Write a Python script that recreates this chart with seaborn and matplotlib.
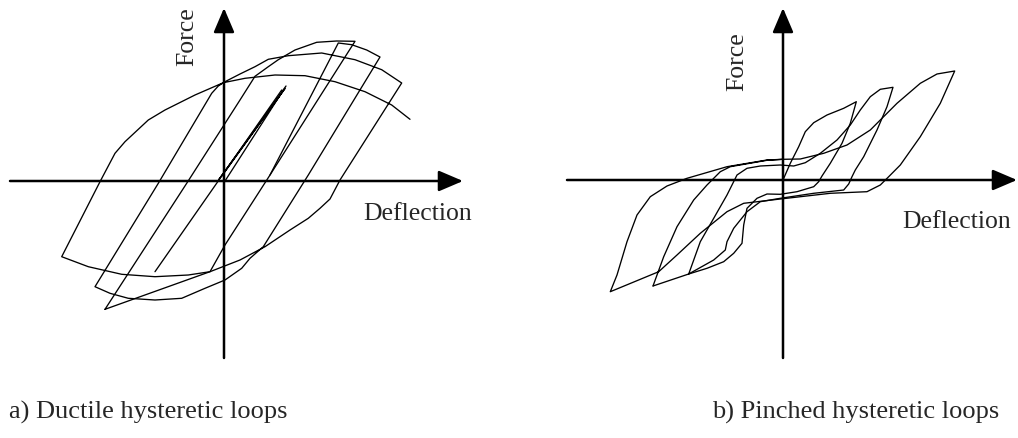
import matplotlib
matplotlib.use("Agg")
import matplotlib.pyplot as plt
import seaborn as sns
import pandas as pd

# ---------------------------------------------------------------
# Ductile hysteretic loops (deflection, force) -- arbitrary units
# ---------------------------------------------------------------
ductile_elastic_defl = [1, 62, -5.5, 61, -2.5]
ductile_elastic_force = [0, 95, 1, 92.5, 4.5]

ductile_unload_defl = [-69, 57.7]
ductile_unload_force = [-90.7, 91]

ductile_cycle1_defl = [-119, -37.3, 16, 31, 44.3, 54.3, 71, 92.7, 112.7, 131,
                       46, 1, -14, -119]
ductile_cycle1_force = [-128.3, -2.3, 81, 104.7, 114.3, 121.3, 131, 138.7, 140,
                        139.7, 6, -64, -90.7, -128.3]

ductile_cycle2_defl = [46, 114.3, 127.7, 142.7, 156, 84.3, 39.3, 26, 17.7, 1,
                       -19, -42.3, -69, -95.7, -114, -129, -65.7, -12.3, -5.7, 1,
                       16, 31, 44.3, 64.3, 97.7, 131, 157.7, 177.7, 116, 106,
                       96, 84.3, 66, 41, 16, -14, -35.7, -69, -102.3, -135.7,
                       -162.3, -124, -109, -99, -75.7, -59, -29, -0.7, 21, 51,
                       81, 111, 141, 167.7, 186]
ductile_cycle2_force = [6, 138, 136.3, 131, 124, 6, -65.7, -77.3, -87.3, -99,
                        -107.3, -117.3, -119, -117.3, -112.3, -105.7, -2.3, 87.7, 95, 99.3,
                        107, 114.3, 121.7, 125.3, 128, 121.3, 111.3, 98, 1, -18,
                        -27.3, -37.3, -49, -65.7, -79, -90.7, -94, -95.7, -93.3, -85.7,
                        -75.7, -0.7, 27.7, 39.3, 61, 71, 86, 98.3, 102.7, 106,
                        105.3, 99.3, 89.3, 76, 61.7]

# ---------------------------------------------------------------
# Pinched hysteretic loops (deflection, force)
# ---------------------------------------------------------------
pinched_cycle1_defl = [0, 7.3, 15.7, 22.3, 30.7, 44, 60.7, 73.3, 67.3, 59,
                       47.3, 39, 35.7, 30.7, 14, -2.7, -16, -26, -36, -39.3,
                       -41, -49.3, -59.3, -76, -94.3]
pinched_cycle1_force = [0, 16.7, 33.3, 48.3, 57.3, 65, 71.7, 78.3, 56.7, 36.7,
                        16.7, 4, -1.7, -6.7, -11.7, -14.3, -14, -18.3, -28.3, -45,
                        -63.3, -73.3, -81.7, -88.3, -94]

pinched_cycle2_defl = [-94.3, -82.7, -69.3, -56, -46, -36, -22.7, -2.7, 10.7, 22.3,
                       37.3, 54, 67.3, 77.3, 87.3, 97.3, 110, 104, 94, 80.7,
                       72.3, 69, 65.7, 60.7, 30.7, -2.7, -22.7, -36, -49.3, -56,
                       -57.7, -69.3, -94.3, -130]
pinched_cycle2_force = [-94, -61.7, -38.3, -15, 5, 11.7, 14, 15, 14, 17.3,
                        26.7, 40, 55, 70, 83.3, 90.7, 92.7, 73.3, 50, 23.3,
                        10, 3.3, -4, -10, -13.3, -18.3, -21.7, -31.7, -48.3, -61.7,
                        -70, -80, -94, -106]

pinched_cycle3_defl = [-130, -119.3, -106, -89.3, -76, -62.7, -52.7, -16, 0, 17.3,
                       40.7, 64, 87.3, 114, 137.3, 154, 171.7, 157.3, 137.3, 117.3,
                       105.7, 97.3, 84, 47.3, -2.7, -39.3, -56, -82.7, -106, -124.3,
                       -172.7, -166, -156, -146, -132.7, -116, -96, -56, -16, 0]
pinched_cycle3_force = [-106, -76.7, -46.7, -20, -5, 8.3, 13.3, 19.7, 20.7, 21,
                        26.7, 35, 50, 76.7, 96.7, 106, 109, 76.7, 43.3, 15,
                        3.3, -5, -11.7, -13.3, -19, -23.3, -31.7, -53.3, -75, -91.7,
                        -111.7, -95, -61.7, -35, -16.7, -6, 1.7, 13.3, 20, 20.7]

axis_labels = ("Deflection", "Force")
captions = ("a) Ductile hysteretic loops", "b) Pinched hysteretic loops")

# ---------------------------------------------------------------
sns.set_theme(style="white")
plt.rcParams["font.family"] = ["Liberation Serif", "DejaVu Serif"]

W, H = 1018, 438
fig = plt.figure(figsize=(W / 100, H / 100), dpi=100)
fig.patch.set_facecolor("white")

LINE = dict(color="black", linewidth=0.95)
FS = 18.5
FS_CAPTION = 19


def draw_paths(ax, paths):
    for dx, fy in paths:
        df = pd.DataFrame({"deflection": dx, "force": fy})
        sns.lineplot(data=df, x="deflection", y="force", sort=False,
                     estimator=None, ax=ax, legend=False, **LINE)


def draw_axes(ax, xmin, xmax, ymin, ymax):
    style = dict(arrowstyle="-|>,head_length=0.75,head_width=0.32",
                 color="black", lw=1.8, shrinkA=0, shrinkB=0,
                 mutation_scale=20)
    ax.annotate("", xy=(xmax, 0), xytext=(xmin, 0), arrowprops=style)
    ax.annotate("", xy=(0, ymax), xytext=(0, ymin), arrowprops=style)


# panel a
ax_a = fig.add_axes([0, 0, 0.5, 1])
ax_a.set_xlim(-224, 285)
ax_a.set_ylim(-257, 181)
draw_axes(ax_a, -214, 239, -177, 173)
draw_paths(ax_a, [
    (ductile_elastic_defl, ductile_elastic_force),
    (ductile_unload_defl, ductile_unload_force),
    (ductile_cycle1_defl, ductile_cycle1_force),
    (ductile_cycle2_defl, ductile_cycle2_force),
])
ax_a.text(139, -33, axis_labels[0], fontsize=FS, ha="left", va="center")
ax_a.text(-37, 144, axis_labels[1], fontsize=FS, rotation=90,
          ha="center", va="center")

# panel b
ax_b = fig.add_axes([0.5, 0, 0.5, 1])
ax_b.set_xlim(-274, 235)
ax_b.set_ylim(-258, 180)
draw_axes(ax_b, -216, 234, -178, 172)
draw_paths(ax_b, [
    (pinched_cycle1_defl, pinched_cycle1_force),
    (pinched_cycle2_defl, pinched_cycle2_force),
    (pinched_cycle3_defl, pinched_cycle3_force),
])
ax_b.text(119, -42, axis_labels[0], fontsize=FS, ha="left", va="center")
ax_b.text(-46, 118, axis_labels[1], fontsize=FS, rotation=90,
          ha="center", va="center")

for ax in (ax_a, ax_b):
    ax.axis("off")

fig.text(9 / W, 1 - 412 / H, captions[0], fontsize=FS_CAPTION,
         ha="left", va="center")
fig.text(712 / W, 1 - 412 / H, captions[1], fontsize=FS_CAPTION,
         ha="left", va="center")

fig.savefig("out.png", dpi=100, facecolor="white")
